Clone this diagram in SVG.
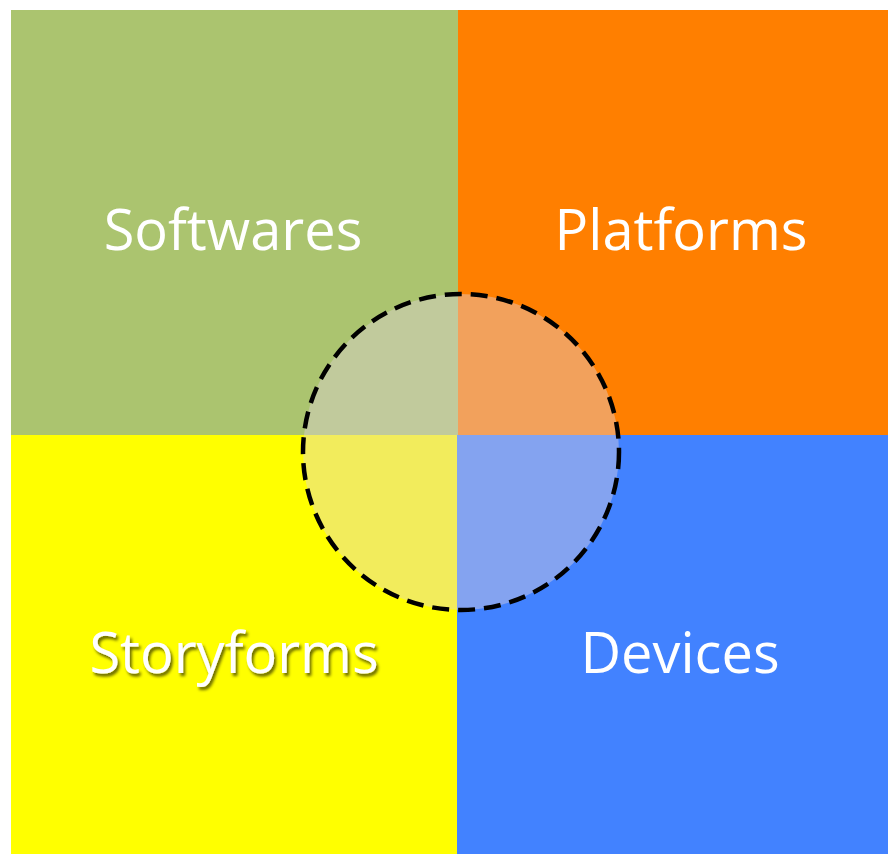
<svg xmlns="http://www.w3.org/2000/svg" width="888" height="854" viewBox="0 0 888 854">
  <defs>
    <filter id="shadow" x="-10%" y="-30%" width="120%" height="160%">
      <feDropShadow dx="2" dy="3" stdDeviation="1.5" flood-color="#000" flood-opacity="0.6"/>
    </filter>
  </defs>
  <style>
    .lbl { font-family: "Open Sans", "Noto Sans", sans-serif; font-size: 56px; fill: #ffffff; text-anchor: middle; }
  </style>
  <rect x="0" y="0" width="888" height="854" fill="#ffffff"/>
  <g id="softwares">
    <rect x="11" y="10" width="447" height="425" fill="#ABC46F"/>
    <text class="lbl" x="233" y="250">Softwares</text>
  </g>
  <g id="platforms">
    <rect x="458" y="10" width="430" height="425" fill="#FF7F00"/>
    <text class="lbl" x="681" y="250">Platforms</text>
  </g>
  <g id="storyforms">
    <rect x="11" y="435" width="446" height="419" fill="#FFFF00"/>
    <text class="lbl" x="234" y="673" filter="url(#shadow)">Storyforms</text>
  </g>
  <g id="devices">
    <rect x="457" y="435" width="431" height="419" fill="#4282FF"/>
    <text class="lbl" x="680" y="673">Devices</text>
  </g>
  <g id="overlap">
    <circle cx="461" cy="452" r="158" fill="#E0D2DB" fill-opacity="0.42" stroke="#000" stroke-width="4.5" stroke-dasharray="17 9"/>
  </g>
</svg>
